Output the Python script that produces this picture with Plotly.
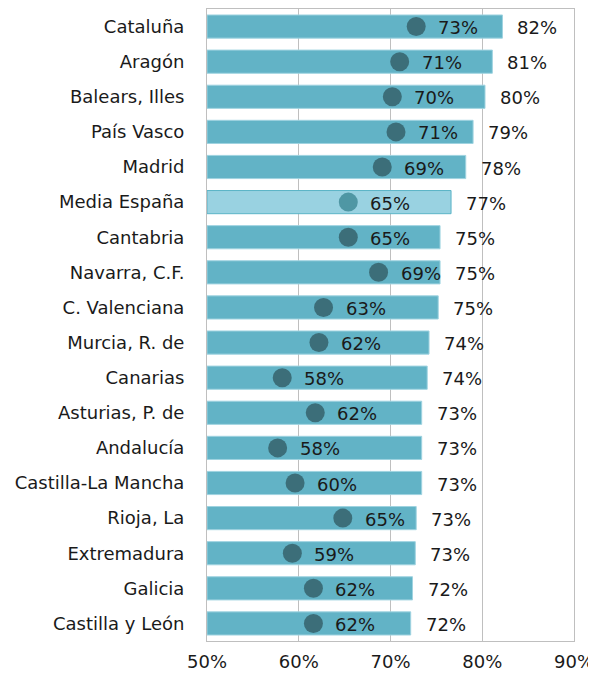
"""Porcentaje por comunidad autónoma: barras y puntos."""
import plotly.graph_objects as go

regiones = [
    "Cataluña", "Aragón", "Balears, Illes", "País Vasco", "Madrid",
    "Media España", "Cantabria", "Navarra, C.F.", "C. Valenciana",
    "Murcia, R. de", "Canarias", "Asturias, P. de", "Andalucía",
    "Castilla-La Mancha", "Rioja, La", "Extremadura", "Galicia",
    "Castilla y León",
]
valor_barra = [82.2, 81.1, 80.3, 79.0, 78.2, 76.6, 75.4, 75.4, 75.2,
               74.2, 74.0, 73.4, 73.4, 73.4, 72.8, 72.7, 72.4, 72.2]
valor_punto = [72.8, 71.0, 70.2, 70.6, 69.1, 65.4, 65.4, 68.7, 62.7,
               62.2, 58.2, 61.8, 57.7, 59.6, 64.8, 59.3, 61.6, 61.6]
ticks_x = [50, 60, 70, 80, 90]

FONT = "DejaVu Sans"
SIZE = 18
media = "Media España"

bar_colors = ["#99d2e1" if r == media else "#62b3c6" for r in regiones]
bar_lines = ["#5cb4c7" if r == media else "#9fd3e0" for r in regiones]
dot_colors = ["#4f97a4" if r == media else "#3c6e79" for r in regiones]

fig = go.Figure()
fig.add_trace(go.Bar(
    y=regiones,
    x=[v - 50 for v in valor_barra],
    base=50,
    orientation="h",
    width=0.66,
    marker=dict(color=bar_colors, line=dict(color=bar_lines, width=1)),
    hoverinfo="skip",
))
fig.add_trace(go.Scatter(
    y=regiones,
    x=valor_punto,
    mode="markers",
    marker=dict(color=dot_colors, size=19),
    hoverinfo="skip",
))

# etiquetas de los puntos y del final de cada barra
for r, p, v in zip(regiones, valor_punto, valor_barra):
    fig.add_annotation(
        x=p, y=r, text=f"{p:.0f}%", showarrow=False,
        xanchor="left", xshift=20, yshift=-1,
        font=dict(family=FONT, size=SIZE, color="#1a1a1a"),
    )
    fig.add_annotation(
        x=v, y=r, text=f"{v:.0f}%", showarrow=False,
        xanchor="left", xshift=13, yshift=-1,
        font=dict(family=FONT, size=SIZE, color="#1a1a1a"),
    )

fig.update_xaxes(
    range=[50, 90],
    tickvals=ticks_x,
    ticktext=[f"{t}%" for t in ticks_x],
    showgrid=True, gridcolor="#bfbfbf", gridwidth=1,
    showline=True, linecolor="#bfbfbf", mirror=True,
    zeroline=False,
    tickfont=dict(family=FONT, size=SIZE, color="#1a1a1a"),
    ticks="", ticklabelstandoff=4,
    automargin=False,
)
fig.update_yaxes(
    categoryorder="array",
    categoryarray=regiones,
    range=[17.5, -0.5],
    showline=True, linecolor="#bfbfbf", mirror=True,
    showgrid=False,
    tickfont=dict(family=FONT, size=SIZE, color="#1a1a1a"),
    ticks="", ticklabelstandoff=18,
    automargin=False,
)
# la página deja 8 px de margen propio arriba y a la izquierda
fig.update_layout(
    width=588, height=666,
    margin=dict(l=199, r=22, t=1, b=33),
    plot_bgcolor="white",
    paper_bgcolor="white",
    showlegend=False,
    font=dict(family=FONT),
)

fig.write_html("out.html")
